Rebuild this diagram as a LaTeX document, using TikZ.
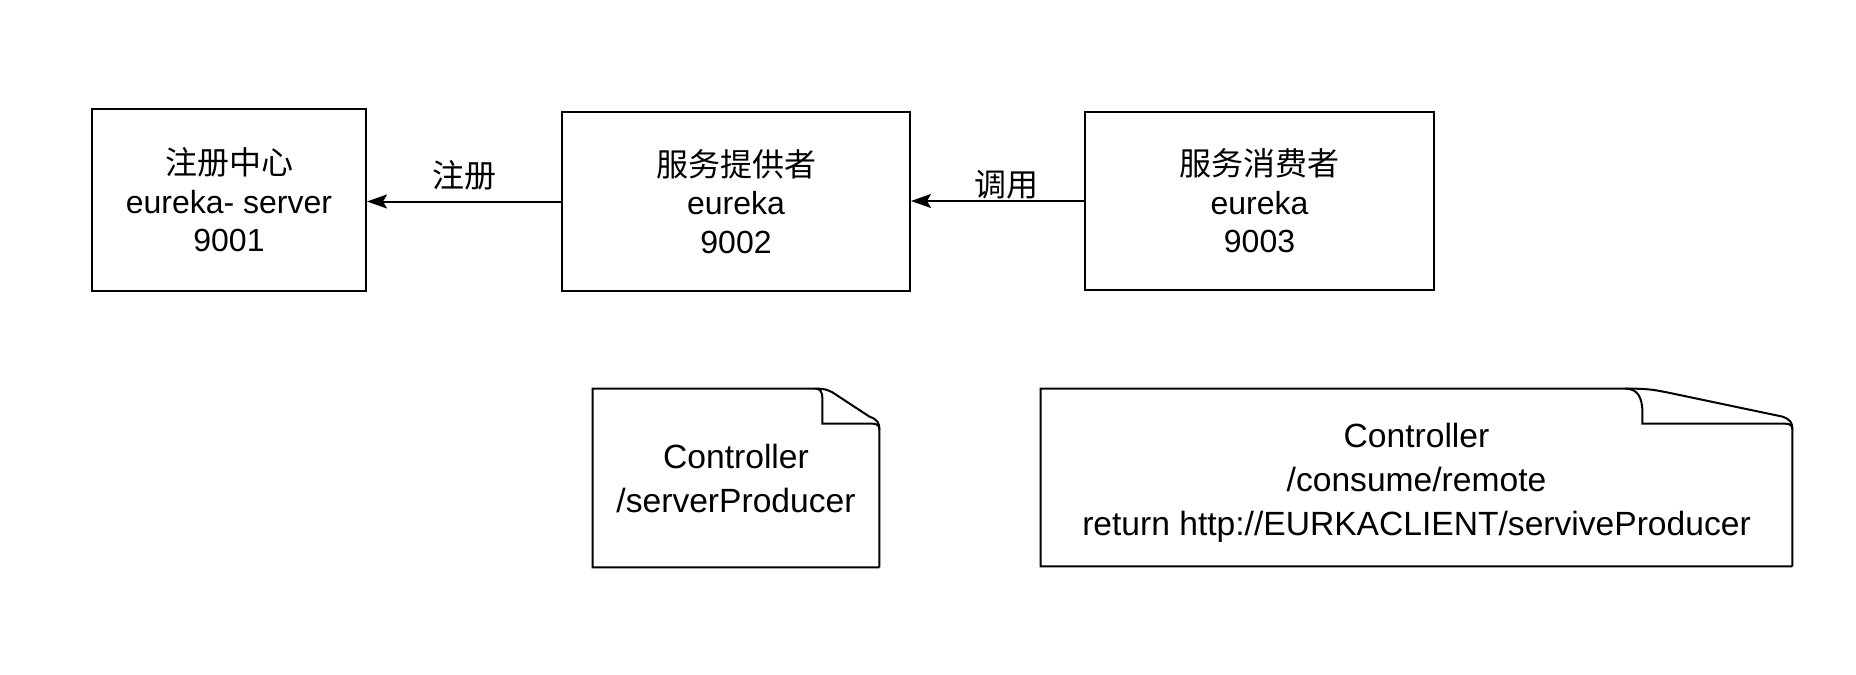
\documentclass[tikz,border=0pt]{standalone}
\usepackage{fontspec}
\setmainfont{Liberation Sans}
\newfontfamily\cjk{Noto Sans CJK SC}
\usetikzlibrary{arrows.meta}
\tikzset{
  svcbox/.style={draw, line width=1pt, align=center, inner sep=0pt, font=\fontsize{16}{19.2}\selectfont},
  notebox/.style={align=center, inner sep=0pt, font=\fontsize{16.8}{22}\selectfont},
  conn/.style={line width=1pt, -{Stealth[length=10pt,width=7pt,inset=2pt]}},
  lbl/.style={font=\cjk\fontsize{16}{19.2}\selectfont, inner sep=0pt}
}
\begin{document}
\begin{tikzpicture}[x=0.5pt, y=-0.5pt]
\useasboundingbox (0,0) rectangle (1856,674);
% services
\node[svcbox, minimum width=137pt, minimum height=91pt] (reg) at (229,200) {{\cjk 注册中心}\\eureka- server\\9001};
\node[svcbox, minimum width=174pt, minimum height=89.5pt] (prov) at (736,201.5) {{\cjk 服务提供者}\\eureka\\9002};
\node[svcbox, minimum width=174.5pt, minimum height=89pt] (cons) at (1259.5,201) {{\cjk 服务消费者}\\eureka\\9003};
% calls
\draw[conn] (prov.west) -- (prov.west -| reg.east) node[lbl, midway, yshift=13pt] {注册};
\draw[conn] (cons.west) -- (cons.west -| prov.east) node[lbl, pos=0.45, yshift=8pt] {调用};
% controllers
\node[notebox, minimum width=143pt, minimum height=89pt] (ctlProv) at (736,478) {Controller\\/serverProducer};
\node[notebox, minimum width=375.5pt, minimum height=88.5pt] (ctlCons) at (1416.5,477.5) {\rule{0pt}{17pt}Controller\\/consume/remote\\return http://EURKACLIENT/serviveProducer};
\foreach \n/\a/\c in {ctlProv/28.5/3.5, ctlCons/75/8.5}{
  \begin{scope}[shift={(\n.north east)}, x=1pt, y=1pt, line width=1pt]
    \draw (\n.south east) -- (\n.south west) -- (\n.north west) -- (-\a-\c,0)
      .. controls (-\a+\c*0.3,0) and (-\a+\c*0.6,-0.5) .. (-\a+\c*1.4,-1.8) -- (-5,-14)
      .. controls (-1,-15.5) and (0,-17) .. (0,-20.5) -- (\n.south east);
    \draw (-\a-\c,0) .. controls (-\a-\c*0.3,0) and (-\a,-\c*0.5) .. (-\a,-\c*1.4) -- (-\a,-17.5)
      -- (-4,-17.5) .. controls (-1,-17.5) and (0,-18.5) .. (0,-20.5);
  \end{scope}
}
\end{tikzpicture}
\end{document}
